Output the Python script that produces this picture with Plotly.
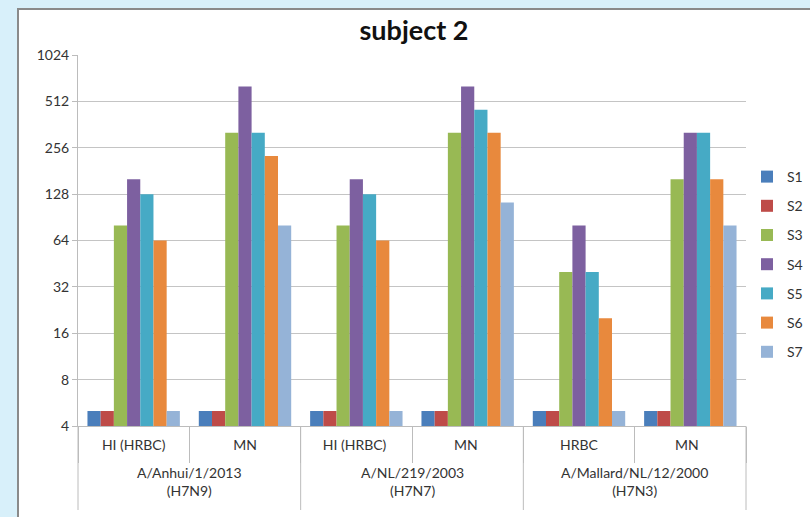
import plotly.graph_objects as go

strains = ["A/Anhui/1/2013<br>(H7N9)", "A/NL/219/2003<br>(H7N7)", "A/Mallard/NL/12/2000<br>(H7N3)"]
assays = ["HI (HRBC)", "MN", "HI (HRBC) ", "MN ", "HRBC", "MN  "]
assays_per_strain = 2

series_names = ["S1", "S2", "S3", "S4", "S5", "S6", "S7"]
S1 = [5, 5, 5, 5, 5, 5]
S2 = [5, 5, 5, 5, 5, 5]
S3 = [80, 320, 80, 320, 40, 160]
S4 = [160, 640, 160, 640, 80, 320]
S5 = [128, 320, 128, 452, 40, 320]
S6 = [64, 226, 64, 320, 20, 160]
S7 = [5, 80, 5, 113, 5, 80]
series_values = [S1, S2, S3, S4, S5, S6, S7]
colors = ["#4a7ebb", "#be4b48", "#98b954", "#7d60a0", "#46aac5", "#e8893d", "#95b3d7"]

y_ticks = [4, 8, 16, 32, 64, 128, 256, 512, 1024]

fig = go.Figure()
for i, (name, vals) in enumerate(zip(series_names, series_values)):
    fig.add_trace(go.Bar(
        x=assays, y=vals, name=name,
        marker=dict(color=colors[i], line=dict(width=0)),
        legendgroup=name,
    ))

font_family = "Lato, 'Open Sans', sans-serif"
axis_col = "#bcbcbc"

# plot area geometry (pixels)
L, R, T, B = 78, 746, 55, 426
PW, PH = R - L, B - T
n_cat = len(assays)

shapes = [dict(type="rect", xref="paper", yref="paper",
               x0=(18 - L) / PW, x1=1.2, y0=-0.5, y1=1 + (T - 9) / PH,
               fillcolor="white", line=dict(color="#8a8a8a", width=2), layer="below")]
annotations = []
for g, s in enumerate(strains):
    b0 = g * assays_per_strain
    b1 = b0 + assays_per_strain
    annotations.append(dict(text=s, xref="paper", yref="paper",
                            x=(b0 + b1) / 2 / n_cat, y=-(481 - B) / PH,
                            xanchor="center", yanchor="middle", showarrow=False,
                            font=dict(size=14, color="#333333")))
for b in range(0, n_cat + 1, assays_per_strain):
    shapes.append(dict(type="line", xref="paper", yref="paper",
                       x0=b / n_cat, x1=b / n_cat, y0=0, y1=-(510 - B) / PH,
                       line=dict(color=axis_col, width=1)))

fig.update_layout(
    width=810, height=517,
    paper_bgcolor="#d8f0fa",
    plot_bgcolor="white",
    margin=dict(l=L, r=810 - R, t=T, b=517 - B, autoexpand=False),
    barmode="group", bargap=0.17, bargroupgap=0,
    font=dict(family=font_family, size=13, color="#333333"),
    title=dict(text="<b>subject 2</b>", x=414 / 810, xanchor="center",
               y=1 - 31 / 517, yanchor="middle", xref="container", yref="container",
               font=dict(size=27, color="#111111", family=font_family)),
    legend=dict(xref="container", yref="container", x=747 / 810, y=1 - 161 / 517,
                xanchor="left", yanchor="top",
                font=dict(size=14, color="#333333"), tracegroupgap=8,
                bgcolor="rgba(0,0,0,0)", itemwidth=30),
    shapes=shapes,
    annotations=annotations,
    showlegend=True,
)

fig.update_yaxes(type="log", range=[0.60206, 3.0103], tickvals=y_ticks,
                 ticktext=[str(v) for v in y_ticks], automargin=False,
                 showgrid=True, gridcolor="#c4c4c4", gridwidth=1,
                 showline=True, linecolor=axis_col, linewidth=1,
                 ticks="outside", ticklen=5, tickcolor=axis_col,
                 tickfont=dict(size=14, color="#333333"), zeroline=False)

fig.update_xaxes(type="category", showline=True, linecolor=axis_col, linewidth=1,
                 automargin=False,
                 ticks="outside", tickson="boundaries", ticklen=36, tickcolor=axis_col,
                 ticklabelstandoff=6,
                 tickfont=dict(size=14, color="#333333"), showgrid=False)

fig.write_html("out.html", config={"displayModeBar": False},
               post_script="document.body.style.margin='0';document.body.style.padding='0';")
